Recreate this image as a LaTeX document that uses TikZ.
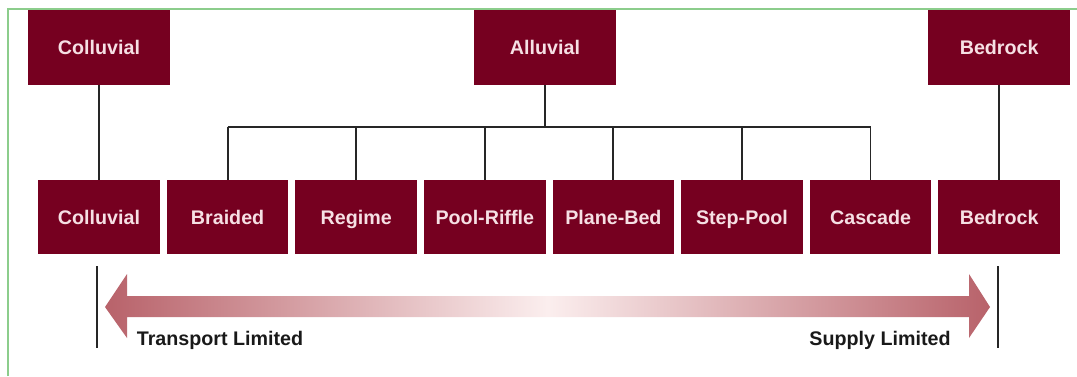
\documentclass[tikz,border=0pt]{standalone}
\usepackage{fontspec}
\setmainfont{Liberation Sans}
\usetikzlibrary{positioning}
\definecolor{boxred}{RGB}{118,0,32}
\definecolor{boxtext}{RGB}{246,224,228}
\definecolor{rosedark}{RGB}{184,98,106}
\definecolor{roselight}{RGB}{251,238,238}
\definecolor{framegreen}{RGB}{140,205,140}
\pgfdeclarehorizontalshading{limitfade}{100bp}{color(0bp)=(rosedark); color(25bp)=(rosedark); color(50bp)=(roselight); color(75bp)=(rosedark); color(100bp)=(rosedark)}
\newcommand{\boxgap}{0.16cm}

\tikzset{
  typebox/.style={fill=boxred, text=boxtext, font=\bfseries\fontsize{14}{16}\selectfont,
    minimum width=3.04cm, minimum height=1.85cm, inner sep=0pt,
    text height=10pt, text depth=0pt},
  topbox/.style={typebox, minimum width=3.55cm, minimum height=1.875cm},
  link/.style={draw=black!85, line width=1.3pt},
  limitlabel/.style={font=\bfseries\fontsize{14}{16}\selectfont, text=black!90},
}

\begin{document}
\begin{tikzpicture}[x=0.025cm, y=-0.025cm]
  \useasboundingbox (0,0) rectangle (1077,376);
  \draw[framegreen, line width=1.2pt] (8,376) -- (8,9) -- (1077,9);

  % channel types
  \node[typebox] (coll) at (99,217) {Colluvial};
  \node[typebox, right=\boxgap of coll] (braided) {Braided};
  \node[typebox, right=\boxgap of braided] (regime) {Regime};
  \node[typebox, right=\boxgap of regime] (poolriffle) {Pool-Riffle};
  \node[typebox, right=\boxgap of poolriffle] (planebed) {Plane-Bed};
  \node[typebox, right=\boxgap of planebed] (steppool) {Step-Pool};
  \node[typebox, right=\boxgap of steppool] (cascade) {Cascade};
  \node[typebox, right=\boxgap of cascade] (bed) {Bedrock};

  % valley types
  \node[topbox] (colltop) at (99,47.5) {Colluvial};
  \node[topbox] (alluvial) at (545,47.5) {Alluvial};
  \node[topbox] (bedtop) at (bed |- colltop) {Bedrock};

  \draw[link] (colltop) -- (coll);
  \draw[link] (bedtop) -- (bed);
  \draw[link] (alluvial.south) -- ++(0,42) coordinate (hub);
  \draw[link] (braided.north |- hub) -- (cascade.north |- hub);
  \foreach \n in {braided,regime,poolriffle,planebed,steppool,cascade}
    \draw[link] (\n.north |- hub) -- (\n.north);

  % supply vs transport
  \path (coll.south) ++(-2,12) coordinate (ltop) ++(0,82) coordinate (lbot);
  \path (bed.south) ++(-1,12) coordinate (rtop) ++(0,82) coordinate (rbot);
  \draw[link] (ltop) -- (lbot);
  \draw[link] (rtop) -- (rbot);
  \shade[shading=limitfade] (105,307) -- (127,274) -- (127,296) -- (969,296)
    -- (969,274) -- (990,307) -- (969,338) -- (969,317) -- (127,317)
    -- (127,338) -- cycle;
  \node[limitlabel] (transport) at (220,340) {Transport Limited};
  \node[limitlabel] (supply) at (880,340) {Supply Limited};
\end{tikzpicture}
\end{document}
